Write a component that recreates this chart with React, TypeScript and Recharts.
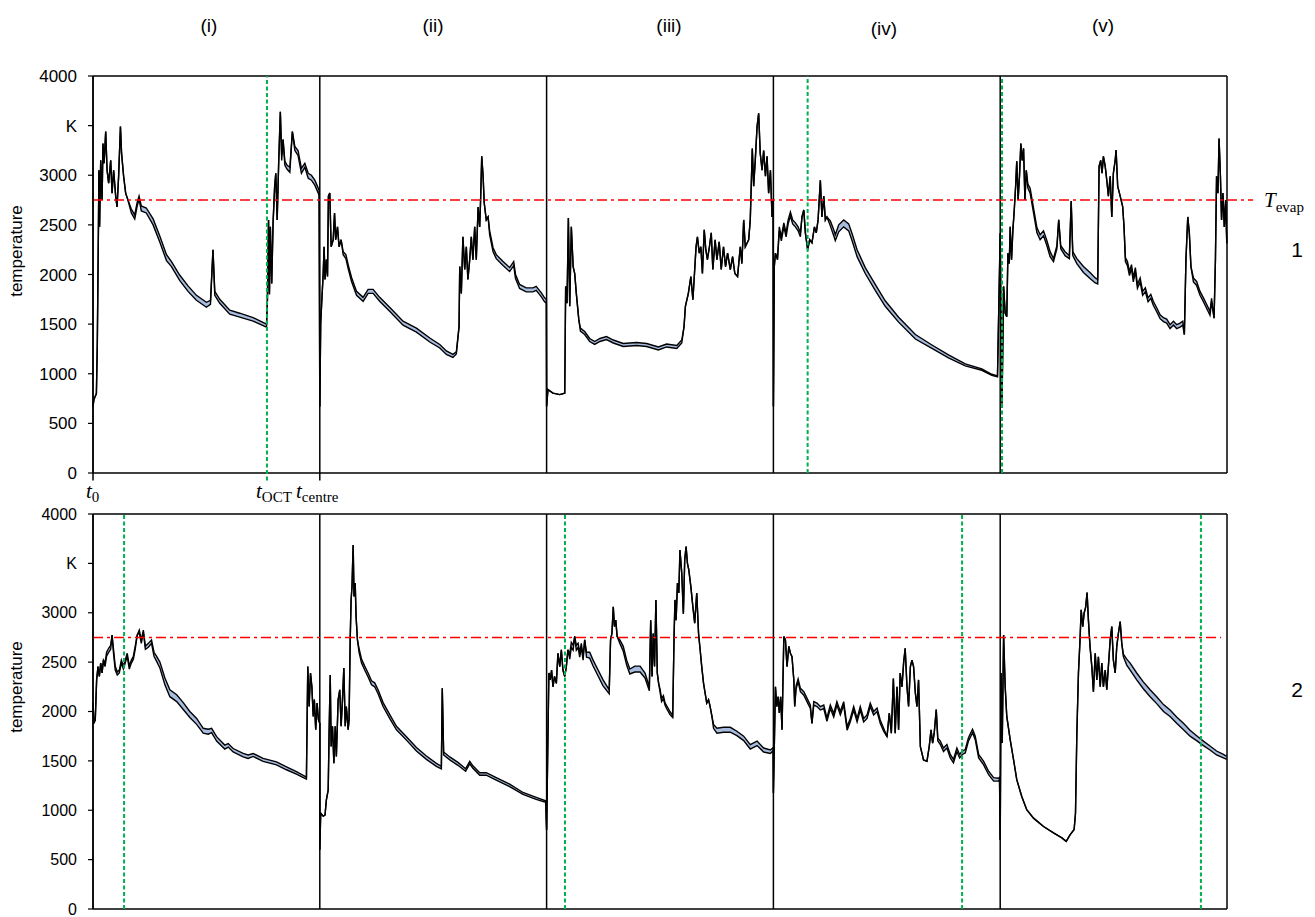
import React from 'react';
import { ComposedChart, Line, Area, XAxis, YAxis, ReferenceLine } from 'recharts';

type Pt = number[];

// Panel captions, axis ticks, reference values
const panelLabels = ['(i)', '(ii)', '(iii)', '(iv)', '(v)'];
const yTicks = [0, 500, 1000, 1500, 2000, 2500, 3000, 3500, 4000];
const T_EVAP = 2750;
// time positions (panel i = 0..100, ii = 100..200, ...)
const row1Green = [76.7, 315.1, 400.8];
const row2Green = [13.7, 208.1, 383.2, 488.5];
const row1RedEnd = 511.5;
const row2RedEnd = 497.4;

// [t (percent of panel), lower K, upper K]
const r1i: Pt[] = [[0,670],[0.4,740],[1.5,800],[1.9,1300],[2.4,2480],[2.6,3050],[2.9,2480],[3.4,3150],[4.0,2750],[4.4,3320],[4.9,3120],[5.6,3440],[6.2,3050],[6.9,2920],[7.8,3150],[8.4,2820],[9.1,3050],[10.0,2790],[10.6,2680],[11.3,2990],[12.1,3490],[12.6,3220],[13.5,2990],[14.4,2820],[15.4,2750],[16.9,2620,2660],[18.4,2560,2600],[19.4,2680,2720],[20.3,2760,2790],[21.3,2640,2690],[23.5,2620,2670],[26.5,2500,2560],[29.4,2330,2390],[32.4,2140,2200],[34.6,2080,2130],[38.2,1940,1995],[41.9,1830,1885],[45.6,1740,1790],[50.0,1670,1720],[51.8,1700,1740],[52.9,2250],[53.7,1790,1830],[55.9,1710,1750],[60.3,1600,1640],[64.7,1570,1610],[70.6,1530,1565],[76.5,1470,1500],[76.9,1740],[77.4,2550],[77.8,1800],[78.2,2480],[78.8,1910],[79.4,2520],[80.1,2890],[80.6,3020],[81.2,2550],[81.9,3150],[82.6,3640],[83.2,3150,3200],[83.8,3360],[84.6,3100,3140],[85.6,3060,3100],[86.8,3030,3080],[87.9,3440],[89.0,3250,3290],[90.4,3200,3250],[91.9,3020,3070],[93.4,3080,3120],[94.9,2970,3020],[96.3,2950,3000],[97.8,2900,2950],[99.7,2800,2850]];
const r1ii: Pt[] = [[0,670],[0.4,1510],[0.9,1745],[1.5,2010],[1.9,2280],[2.3,1950],[2.9,2150],[3.4,1980],[3.8,2790],[4.4,2820],[5.0,2280],[5.9,2350],[6.5,2620],[7.0,2350],[7.8,2480],[8.5,2280],[9.4,2350],[10.3,2200,2230],[11.5,2160,2200],[12.5,2060,2100],[14.0,1930,1970],[16.2,1790,1830],[19.1,1730,1770],[21.3,1810,1850],[23.5,1810,1850],[26.4,1730,1770],[30.8,1630,1670],[36.7,1490,1530],[42.6,1420,1460],[48.5,1320,1360],[52.9,1260,1295],[55.8,1195,1230],[58.7,1165,1195],[60.2,1200,1220],[61.4,1475],[61.7,2080],[62.4,1810],[63.1,2380],[63.9,2050],[64.6,2280],[65.3,1950],[66.1,2150],[66.8,2380],[67.5,2150],[68.3,2480],[69.0,2150],[69.8,2680],[70.5,2480],[70.9,2750],[71.4,3190],[72.0,2990],[72.5,2720],[73.4,2550],[74.2,2580],[74.9,2400,2440],[76.4,2230,2270],[77.8,2160,2200],[80.8,2090,2130],[83.7,2030,2070],[85.5,2090,2130],[86.3,1960,2000],[88.1,1860,1900],[91.0,1825,1865],[94.0,1825,1865],[95.4,1840,1880],[97.7,1775,1815],[99.1,1725,1765],[99.9,1710,1750]];
const r1iii: Pt[] = [[0,670],[0.6,840],[2.8,805],[5.8,790],[8.0,805],[8.4,1880],[9.0,1710],[9.6,2570],[10.2,1680],[10.9,2480],[11.7,2080],[12.4,2010],[13.1,1810],[14.2,1545],[14.9,1430,1460],[16.8,1395,1425],[19.0,1325,1355],[21.2,1295,1325],[23.5,1325,1355],[26.4,1345,1375],[29.4,1310,1340],[33.8,1275,1305],[39.7,1285,1315],[44.1,1275,1305],[49.3,1240,1270],[52.9,1270,1300],[57.4,1255,1285],[59.6,1310,1340],[60.6,1475],[61.2,1680],[62.5,1810],[63.6,1980],[64.5,1745],[65.2,2010],[65.9,2280],[66.5,2380],[67.3,2215],[68.0,2280],[68.7,2010],[69.5,2450],[70.2,2250],[70.9,2150],[71.8,2280],[72.6,2420],[73.3,2050],[74.3,2350],[75.1,2150],[76.1,2330],[77.0,2050],[78.0,2280],[78.9,2080],[79.8,2215],[81.0,2050],[82.0,2180],[83.0,2010],[84.2,1980],[85.4,2280],[86.1,2110],[86.9,2550],[87.6,2280],[89.1,2350],[89.8,2550],[90.7,3270],[91.3,2890],[92.0,3150],[92.8,3490],[93.5,3625],[94.2,3220],[95.0,3050],[95.7,3250],[96.5,2990],[97.2,3190],[97.9,2820],[98.7,3050],[99.4,2580],[99.9,2750]];
const r1iv: Pt[] = [[0,670],[0.4,2080],[0.9,2215],[1.8,2150],[2.6,2440,2480],[3.5,2340,2380],[4.6,2480,2520],[5.6,2380,2420],[6.5,2510,2550],[7.5,2590,2630],[8.5,2510,2550],[9.7,2480,2520],[10.9,2440,2480],[11.9,2380,2420],[12.6,2580],[13.4,2650],[14.1,2420],[15.1,2250],[16.0,2350],[17.0,2320],[18.1,2480],[18.9,2420],[19.7,2550],[20.7,2950],[21.4,2580],[22.2,2790],[22.9,2550],[23.6,2580],[25.1,2490,2540],[26.6,2390,2450],[27.3,2340,2400],[28.8,2430,2500],[31.0,2480,2550],[33.2,2440,2510],[34.7,2340,2410],[36.9,2180,2250],[40.5,2010,2070],[44.9,1840,1900],[49.3,1680,1735],[55.2,1520,1570],[62.6,1350,1395],[69.9,1255,1290],[77.2,1160,1190],[84.6,1080,1100],[91.9,1035,1050],[96.3,985,995],[98.8,970,978]];
const r1v: Pt[] = [[0,2415],[0.4,1500],[0.8,700],[1.5,1880],[2.2,1610],[2.9,1575],[3.4,2215],[4.0,2110],[4.4,2480],[5.0,2150],[5.6,2450],[6.2,2650],[6.8,2890],[7.3,3140],[7.9,2750],[8.5,2990],[9.1,3320],[9.7,3150],[10.3,3270],[10.9,2750],[11.5,3050],[12.2,2870,2910],[13.2,2820,2870],[14.7,2620,2670],[16.2,2420,2470],[17.6,2350,2400],[19.1,2390,2440],[20.6,2290,2340],[22.0,2180,2230],[23.5,2130,2160],[25.0,2260,2290],[25.8,2550],[26.7,2260,2290],[28.6,2190,2230],[30.5,2160,2190],[31.3,2740],[32.0,2190,2230],[33.8,2110,2160],[36.7,2020,2080],[39.6,1960,2020],[41.9,1915,1965],[43.0,1905,1950],[43.6,3090],[44.3,3150],[44.9,3020],[45.5,3190],[46.3,3090],[47.0,2950],[47.7,2790],[48.5,2990],[49.2,2580],[49.9,3020],[50.7,3150],[51.1,3255],[51.8,2890],[52.9,2790],[54.0,2685],[54.6,2480],[55.2,2130,2170],[56.1,2090,2130],[57.0,1990,2030],[57.9,2060,2100],[58.7,1925,1965],[59.6,2030,2070],[60.5,1860,1900],[61.7,1925,1965],[62.8,1790,1830],[64.0,1825,1865],[65.2,1725,1765],[66.4,1760,1800],[67.5,1690,1730],[69.0,1625,1665],[70.5,1555,1595],[72.0,1525,1565],[73.4,1510,1550],[74.9,1455,1495],[76.4,1490,1530],[77.8,1455,1495],[79.3,1470,1510],[80.5,1490,1530],[81.2,1395],[81.9,2150],[82.7,2580],[83.4,2415],[84.1,2080],[85.2,1925,1965],[86.6,1890,1930],[88.1,1790,1830],[89.6,1725,1765],[91.0,1660,1700],[92.5,1590,1630],[93.2,1725,1760],[94.3,1560],[94.9,2150],[95.4,2990],[96.0,2820],[96.5,3370],[97.1,2990],[97.6,2550],[98.2,2820],[98.8,2480],[99.4,2750],[99.9,2315]];

const r2i: Pt[] = [[0,2085],[0.4,1880],[1.0,1915],[1.6,2320],[2.2,2455],[2.8,2355],[3.4,2490],[4.0,2390],[4.6,2520],[5.3,2455,2490],[6.0,2560,2600],[6.9,2600,2640],[7.8,2630,2670],[8.4,2775],[9.0,2600,2640],[9.8,2420,2460],[10.7,2370,2400],[11.6,2390,2420],[12.5,2490,2520],[13.4,2430,2460],[14.2,2490,2520],[15.1,2560,2590],[16.0,2430,2460],[16.9,2490,2520],[17.8,2530,2560],[18.6,2630,2660],[19.5,2775],[20.4,2800,2825],[21.3,2690,2725],[22.2,2800,2825],[23.1,2630,2660],[24.4,2650,2690],[25.8,2690,2725],[26.9,2560,2600],[28.0,2510,2560],[29.5,2440,2500],[31.7,2270,2340],[33.9,2150,2220],[36.9,2100,2170],[39.8,2020,2090],[42.7,1940,2000],[45.7,1870,1930],[48.6,1780,1830],[50.8,1770,1820],[52.3,1785,1830],[54.5,1700,1745],[58.1,1620,1660],[59.6,1640,1675],[61.8,1590,1625],[66.2,1540,1575],[68.4,1525,1560],[70.6,1545,1575],[75.0,1495,1525],[80.9,1460,1490],[85.3,1410,1440],[89.7,1365,1390],[94.1,1315,1335],[94.7,2455],[95.3,2050],[95.9,2390],[96.5,2250],[97.1,1950],[97.6,2120],[98.2,1815],[98.8,2085],[99.4,1915],[100,1880]];
const r2ii: Pt[] = [[0,600],[0.4,970],[1.5,940],[2.3,950],[2.9,1105],[3.7,1205],[4.1,1780],[4.6,2370],[5.0,1645],[5.6,1850],[6.2,1475],[6.8,1850],[7.3,1545],[8.1,2120],[8.8,2220],[9.4,1850],[10.0,2120],[10.6,2440],[11.2,1850],[11.7,2050],[12.5,1815],[12.9,1915],[13.4,2725],[13.8,3130],[14.2,3265],[14.7,3685],[15.1,3165],[15.6,3300],[16.0,2960],[16.6,2725],[17.3,2600,2640],[18.4,2490,2530],[19.8,2420,2460],[21.3,2350,2390],[22.8,2270,2310],[24.2,2250,2290],[25.7,2180,2220],[27.9,2050,2090],[30.8,1930,1970],[33.8,1815,1850],[38.2,1710,1745],[42.6,1600,1635],[47.0,1515,1550],[51.4,1445,1475],[53.6,1420,1445],[54.0,2235],[54.6,1560,1590],[57.3,1510,1540],[60.9,1455,1485],[64.3,1395,1420],[66.1,1470,1495],[67.5,1425,1450],[70.5,1355,1380],[73.4,1355,1380],[77.8,1305,1330],[83.7,1240,1265],[89.6,1160,1180],[95.4,1110,1130],[99.6,1080,1095]];
const r2iii: Pt[] = [[0,800],[1.0,2390],[1.6,2320],[2.2,2420],[2.8,2250],[3.5,2355],[4.3,2285],[5.0,2590],[5.8,2455],[6.5,2625],[7.2,2420],[8.0,2355],[8.7,2455],[9.4,2625],[10.2,2530,2580],[10.9,2650,2700],[11.7,2620,2670],[12.4,2760],[13.1,2620,2670],[13.9,2650,2690],[14.6,2550,2600],[15.3,2650,2690],[16.1,2520,2560],[16.8,2725],[17.6,2550,2600],[19.0,2540,2600],[20.5,2460,2520],[22.7,2360,2420],[24.9,2260,2320],[27.6,2180,2220],[28.2,2725],[28.8,2790],[29.4,3060],[29.9,2860],[30.5,2925],[31.1,2760],[32.3,2690,2725],[33.8,2610,2660],[35.3,2470,2520],[36.7,2380,2430],[38.9,2400,2460],[41.2,2400,2460],[43.4,2340,2390],[45.3,2210,2250],[45.9,2925],[46.5,2355],[47.0,2790],[47.6,2455],[48.2,3130],[48.8,2390],[49.4,2285],[50.0,2200,2230],[50.7,2100,2130],[51.5,2130,2160],[52.2,2065,2090],[52.9,2030,2060],[54.4,1970,2000],[55.6,1940,1960],[56.2,2760],[56.6,3130],[57.1,2925],[57.7,3300],[58.3,3200],[58.8,3635],[59.6,3400],[60.3,2990],[60.9,3535],[61.5,3670],[62.1,3500],[62.7,3435],[63.6,3265],[64.5,3060],[65.3,2895],[66.2,3200],[67.0,2790],[67.7,2625],[68.4,2455],[69.2,2285],[69.9,2185],[70.6,2085],[71.4,2120],[72.1,2050],[72.9,1950],[73.6,1830,1870],[75.1,1780,1830],[78.0,1790,1840],[81.0,1790,1840],[83.9,1755,1800],[86.9,1705,1750],[89.8,1620,1665],[92.8,1655,1700],[95.7,1590,1630],[98.7,1575,1610],[99.9,1605,1635]];
const r2iv: Pt[] = [[0,1175],[0.9,2250],[1.5,2050],[2.1,2150],[2.6,1985],[3.2,2150],[3.8,1815],[4.6,2760],[5.3,2725],[6.0,2455],[6.8,2660],[7.5,2590],[8.2,2555],[9.0,2320],[9.4,2050],[10.0,2230,2260],[10.9,2300,2330],[11.9,2200,2235],[13.4,2165,2200],[14.8,2100,2135],[16.3,2030,2065],[17.0,1880],[17.8,2065,2100],[19.2,2050,2085],[20.7,2015,2050],[22.2,2030,2065],[23.6,1900,1935],[25.1,2030,2065],[26.6,1945,1980],[28.0,2065,2100],[29.5,1965,2000],[31.0,2065,2100],[32.5,1810,1845],[33.9,1895,1930],[35.4,2015,2050],[36.9,1895,1930],[38.3,2015,2050],[39.8,1895,1930],[41.3,1930,1965],[42.7,2050,2085],[44.2,1965,2000],[45.7,2000,2035],[47.1,1880,1915],[48.6,1800,1830],[50.1,1745],[51.1,1985],[52.0,1780],[52.9,2335],[53.7,1780],[54.5,2250],[55.2,1815],[55.9,2390],[56.7,2250],[57.4,2490],[58.1,2640],[58.9,2250],[59.6,2050],[60.4,2455],[61.1,2520],[61.8,2455],[62.6,2185],[63.3,2050],[64.0,2320],[64.8,1645],[66.2,1510],[67.7,1495],[68.7,1645],[69.5,1815],[70.2,1680],[70.9,1780],[71.8,2020],[72.5,1700,1730],[73.6,1665,1700],[75.0,1595,1630],[76.5,1630,1665],[78.0,1530,1565],[79.4,1480,1515],[80.9,1595,1630],[82.1,1530,1565],[83.3,1565,1600],[84.6,1580,1615],[86.0,1700,1735],[87.8,1785,1820],[89.0,1715,1750],[90.5,1530,1565],[92.7,1460,1495],[94.9,1360,1395],[97.1,1295,1330],[99.3,1295,1325],[99.7,1310,1335]];
const r2v: Pt[] = [[0,700],[0.4,2390],[0.9,1680],[1.5,2775],[2.2,2250],[2.9,1950],[4.4,1715],[5.9,1510],[7.3,1310],[9.5,1140],[11.7,1005],[14.7,920],[19.1,835],[23.5,770],[27.2,720],[29.1,685],[30.8,750],[32.6,805],[33.2,970],[33.8,1780],[34.5,2390],[35.2,2725],[35.7,3030],[36.4,2860],[37.0,2995],[37.7,3060],[38.3,3205],[38.9,2925],[39.6,2660],[40.4,2455],[41.1,2200],[41.9,2590],[42.6,2320],[43.3,2555],[44.1,2250],[44.8,2490],[45.5,2250],[46.3,2420],[47.0,2220],[47.7,2455],[48.5,2725],[49.2,2860],[49.9,2520],[50.7,2390],[51.4,2660],[52.1,2790],[52.9,2910],[53.6,2690],[54.3,2555,2580],[55.8,2470,2530],[57.3,2420,2490],[60.2,2320,2390],[63.1,2230,2300],[66.1,2150,2220],[69.0,2080,2150],[72.0,2000,2070],[74.9,1950,2015],[77.8,1880,1945],[80.8,1815,1880],[83.7,1750,1810],[86.6,1705,1755],[89.6,1655,1700],[92.5,1610,1650],[95.4,1560,1600],[98.4,1530,1565],[99.9,1515,1545]];

const SANS = 'Liberation Sans, Arial, sans-serif';
const SERIF = 'Liberation Serif, Times New Roman, serif';

function build(panels: Pt[][]) {
  const out: any[] = [];
  panels.forEach((pts, p) => {
    pts.forEach((pt) => {
      const lo = pt[1];
      const hi = pt.length > 2 ? pt[2] : pt[1];
      out.push({ x: p * 100 + pt[0], lo, hi, band: [lo, hi] });
    });
  });
  return out;
}

const row1Data = build([r1i, r1ii, r1iii, r1iv, r1v]);
const row2Data = build([r2i, r2ii, r2iii, r2iv, r2v]);

interface RowProps {
  data: any[];
  greens: number[];
  redEnd: number;
  top: number;
  height: number;
  mTop: number;
  mBottom: number;
  first: boolean;
  tickFont: number;
}

function Row({ data, greens, redEnd, top, height, mTop, mBottom, first, tickFont }: RowProps) {
  return (
    <div style={{ position: 'absolute', left: 0, top, width: 1315, height }}>
      <ComposedChart
        width={1315}
        height={height}
        data={data}
        margin={{ top: mTop, right: 88, bottom: mBottom, left: 33 }}
      >
        <XAxis type="number" dataKey="x" domain={[0, 500]} hide />
        <YAxis
          type="number"
          domain={[0, 4000]}
          ticks={yTicks}
          interval={0}
          width={60}
          tickSize={5}
          tickMargin={11}
          tickFormatter={(v: number) => (v === 3500 ? 'K' : String(v))}
          tick={{ fill: '#000', fontSize: tickFont, fontFamily: SANS }}
          axisLine={{ stroke: '#000', strokeWidth: 1.5 }}
          tickLine={{ stroke: '#000', strokeWidth: 1.2 }}
        />
        <Area
          dataKey="band"
          type="linear"
          fill="#a8bcdf"
          fillOpacity={1}
          stroke="none"
          isAnimationActive={false}
        />
        <Line dataKey="hi" type="linear" stroke="#000" strokeWidth={1.4} dot={false} activeDot={false} isAnimationActive={false} />
        <Line dataKey="lo" type="linear" stroke="#000" strokeWidth={1.4} dot={false} activeDot={false} isAnimationActive={false} />
        {[0, 100, 200, 300, 400, 500].map((x) => (
          <ReferenceLine key={'b' + x} x={x} stroke="#000" strokeWidth={1.5} />
        ))}
        <ReferenceLine y={4000} stroke="#000" strokeWidth={1.5} />
        <ReferenceLine y={0} stroke="#000" strokeWidth={1.5} />
        {first &&
          [0, 100].map((x) => (
            <ReferenceLine
              key={'t' + x}
              segment={[{ x, y: 0 }, { x, y: -75 }]}
              stroke="#000"
              strokeWidth={1.5}
              ifOverflow="visible"
            />
          ))}
        <ReferenceLine
          segment={[{ x: 0, y: T_EVAP }, { x: redEnd, y: T_EVAP }]}
          stroke="#ff0000"
          strokeWidth={1.5}
          strokeDasharray="10 4 3 4"
          ifOverflow="visible"
        />
        {greens.map((g, i) => (
          <ReferenceLine
            key={'g' + i}
            segment={[{ x: g, y: first && i === 0 ? -75 : 0 }, { x: g, y: 4000 }]}
            stroke="#00b050"
            strokeWidth={2}
            strokeDasharray="4 2.5"
            ifOverflow="visible"
          />
        ))}
      </ComposedChart>
    </div>
  );
}

const panelCentres = [209, 433, 669, 884, 1103];

export default function App() {
  return (
    <div style={{ position: 'absolute', left: 0, top: 0, width: 1315, height: 917, background: '#fff', overflow: 'hidden' }}>
      <Row data={row1Data} greens={row1Green} redEnd={row1RedEnd} top={0} height={490} mTop={76} mBottom={17} first={true} tickFont={17} />
      <Row data={row2Data} greens={row2Green} redEnd={row2RedEnd} top={490} height={427} mTop={24} mBottom={8} first={false} tickFont={16} />
      <svg width={1315} height={917} style={{ position: 'absolute', left: 0, top: 0, pointerEvents: 'none' }}>
        {panelLabels.map((l, i) => (
          <text key={l} x={panelCentres[i]} y={i === 3 ? 35 : 32} textAnchor="middle" fontSize={19} fontFamily={SANS} fill="#000">
            {l}
          </text>
        ))}
        {[251, 687].map((cy) => (
          <text key={cy} x={22} y={cy} transform={`rotate(-90, 22, ${cy})`} textAnchor="middle" fontSize={17} fontFamily={SANS} fill="#000">
            temperature
          </text>
        ))}
        <text x={1297} y={257} textAnchor="middle" fontSize={21} fontFamily={SANS} fill="#000">1</text>
        <text x={1297} y={697} textAnchor="middle" fontSize={21} fontFamily={SANS} fill="#000">2</text>
        <text x={1264} y={207} fontSize={21} fontFamily={SERIF} fill="#000">
          <tspan fontStyle="italic">T</tspan>
          <tspan dy={5} fontSize={15}>evap</tspan>
        </text>
        <text x={86} y={498} fontSize={21} fontFamily={SERIF} fill="#000">
          <tspan fontStyle="italic">t</tspan>
          <tspan dy={4} fontSize={15}>0</tspan>
        </text>
        <text x={256} y={498} fontSize={21} fontFamily={SERIF} fill="#000">
          <tspan fontStyle="italic">t</tspan>
          <tspan dy={4} fontSize={15}>OCT</tspan>
        </text>
        <text x={296} y={498} fontSize={21} fontFamily={SERIF} fill="#000">
          <tspan fontStyle="italic">t</tspan>
          <tspan dy={4} fontSize={15}>centre</tspan>
        </text>
      </svg>
    </div>
  );
}
